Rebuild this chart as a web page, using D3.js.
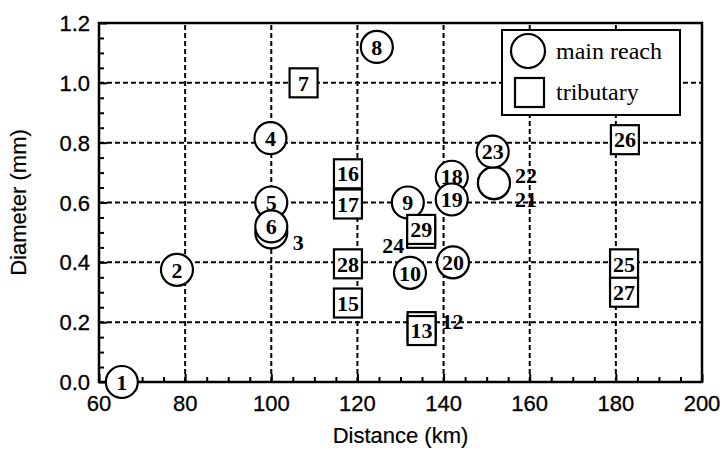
<!DOCTYPE html>
<html>
<head>
<meta charset="utf-8">
<script src="https://cdn.jsdelivr.net/npm/d3@7"></script>
<style>
  body { margin: 0; background: #fff; }
  svg { display: block; }
  .tick-label { font-family: "Liberation Sans", Arial, sans-serif; font-size: 22px; stroke: #000; stroke-width: 0.3px; }
  .axis-title { font-family: "Liberation Sans", Arial, sans-serif; font-size: 22px; stroke: #000; stroke-width: 0.2px; }
  .pt-label { font-family: "Liberation Serif", "Times New Roman", serif; font-size: 22px; font-weight: bold; }
  .legend-text { font-family: "Liberation Serif", "Times New Roman", serif; font-size: 24px; }
</style>
</head>
<body>
<svg id="chart" width="725" height="451"></svg>
<script>
// main reach samples (circles)
const mainIds  = [1, 2, 3, 4, 5, 6, 8, 9, 10, 18, 19, 20, 21, 22, 23];
const mainDist = [65.3, 78.1, 100, 99.8, 100, 100, 124.5, 131.7, 132.2, 141.9, 141.9, 142.2, 151.7, 151.7, 151.4];
const mainDiam = [0.0, 0.375, 0.50, 0.815, 0.60, 0.52, 1.12, 0.60, 0.365, 0.686, 0.61, 0.40, 0.665, 0.665, 0.77];

// tributary samples (squares)
const tribIds  = [7, 12, 13, 15, 16, 17, 24, 25, 26, 27, 28, 29];
const tribDist = [107.5, 134.9, 134.9, 117.8, 117.8, 117.8, 134.8, 181.9, 182.1, 181.9, 117.8, 134.8];
const tribDiam = [1.0, 0.185, 0.172, 0.264, 0.696, 0.595, 0.497, 0.395, 0.81, 0.30, 0.395, 0.51];

// samples hidden behind others, numbered beside the marker
const sideLabelIds = [3, 12, 21, 22, 24];

const xTicks = [60, 80, 100, 120, 140, 160, 180, 200];
const yTicks = [0.0, 0.2, 0.4, 0.6, 0.8, 1.0, 1.2];

const svg = d3.select("#chart");
const x = d3.scaleLinear().domain([60, 200]).range([99, 702]);
const y = d3.scaleLinear().domain([0, 1.2]).range([382, 23]);

// grid
const grid = svg.append("g")
    .attr("stroke", "#000").attr("stroke-width", 2).attr("stroke-dasharray", "5,3");
grid.selectAll(".vg").data(xTicks.slice(1, -1)).enter().append("line")
    .attr("x1", d => x(d)).attr("x2", d => x(d))
    .attr("y1", y(0)).attr("y2", y(1.2));
grid.selectAll(".hg").data(yTicks.slice(1, -1)).enter().append("line")
    .attr("x1", x(60)).attr("x2", x(200))
    .attr("y1", d => y(d)).attr("y2", d => y(d));

// inward ticks
const xAxis = d3.axisTop(x).tickValues(d3.range(60, 201, 5))
    .tickSize(0).tickFormat("");
const gx = svg.append("g").attr("transform", `translate(0,${y(0)})`).call(xAxis);
gx.select(".domain").remove();
gx.selectAll(".tick line").attr("y2", d => d % 20 === 0 ? -8 : -5)
    .attr("stroke-width", 2);

const yAxis = d3.axisRight(y).tickValues(d3.range(0, 1.2001, 0.05))
    .tickSize(0).tickFormat("");
const gy = svg.append("g").attr("transform", `translate(${x(60)},0)`).call(yAxis);
gy.select(".domain").remove();
gy.selectAll(".tick line").attr("x2", d => Math.abs(Math.round(d * 100) % 20) === 0 ? 8 : 5)
    .attr("stroke-width", 2);

// tick labels
svg.selectAll(".xl").data(xTicks).enter().append("text")
    .attr("class", "tick-label")
    .attr("x", d => x(d)).attr("y", y(0) + 29)
    .attr("text-anchor", "middle")
    .text(d => d);
svg.selectAll(".yl").data(yTicks).enter().append("text")
    .attr("class", "tick-label")
    .attr("x", x(60) - 9).attr("y", d => y(d) + 8)
    .attr("text-anchor", "end")
    .text(d => d3.format(".1f")(d));

// axis titles
svg.append("text").attr("class", "axis-title")
    .attr("x", (x(60) + x(200)) / 2).attr("y", 443)
    .attr("text-anchor", "middle").text("Distance (km)");
svg.append("text").attr("class", "axis-title")
    .attr("transform", `translate(26,${(y(0) + y(1.2)) / 2}) rotate(-90)`)
    .attr("text-anchor", "middle").text("Diameter (mm)");

// frame
svg.append("rect")
    .attr("x", x(60)).attr("y", y(1.2))
    .attr("width", x(200) - x(60)).attr("height", y(0) - y(1.2))
    .attr("fill", "none").attr("stroke", "#000").attr("stroke-width", 2.5);

// points
const points = mainIds.map((id, i) => ({ id, dist: mainDist[i], diam: mainDiam[i], shape: "circle" }))
    .concat(tribIds.map((id, i) => ({ id, dist: tribDist[i], diam: tribDiam[i], shape: "square" })));
const hidden = points.filter(p => sideLabelIds.includes(p.id));
const shown = points.filter(p => !sideLabelIds.includes(p.id)).sort((a, b) => a.id - b.id);
const ordered = hidden.concat(shown);

const R = 16, SW = 28, SH = 29;
const pg = svg.selectAll(".pt").data(ordered).enter().append("g")
    .attr("transform", d => `translate(${x(d.dist)},${y(d.diam)})`);
pg.filter(d => d.shape === "circle").append("circle")
    .attr("r", R).attr("fill", "#fff").attr("stroke", "#000").attr("stroke-width", 2.2);
pg.filter(d => d.shape === "square").append("rect")
    .attr("x", -SW / 2).attr("y", -SH / 2).attr("width", SW).attr("height", SH)
    .attr("fill", "#fff").attr("stroke", "#000").attr("stroke-width", 2.2);
pg.filter(d => !sideLabelIds.includes(d.id)).append("text")
    .attr("class", "pt-label")
    .attr("text-anchor", "middle").attr("dy", "0.35em")
    .text(d => d.id);

// side labels for hidden samples
const sideOffset = { 3: [27, 10], 12: [31, -5], 21: [32, 16], 22: [32, -8], 24: [-28, 12] };
svg.selectAll(".side").data(hidden).enter().append("text")
    .attr("class", "pt-label")
    .attr("x", d => x(d.dist) + sideOffset[d.id][0])
    .attr("y", d => y(d.diam) + sideOffset[d.id][1])
    .attr("text-anchor", "middle").attr("dy", "0.35em")
    .text(d => d.id);

// legend
const lg = svg.append("g");
lg.append("rect").attr("x", 502).attr("y", 30).attr("width", 178).attr("height", 85)
    .attr("fill", "#fff").attr("stroke", "#000").attr("stroke-width", 2);
lg.append("circle").attr("cx", 528).attr("cy", 51).attr("r", 17)
    .attr("fill", "#fff").attr("stroke", "#000").attr("stroke-width", 2.2);
lg.append("rect").attr("x", 515).attr("y", 78).attr("width", 29).attr("height", 29)
    .attr("fill", "#fff").attr("stroke", "#000").attr("stroke-width", 2.2);
lg.append("text").attr("class", "legend-text").attr("x", 556).attr("y", 59).text("main reach");
lg.append("text").attr("class", "legend-text").attr("x", 556).attr("y", 100).text("tributary");
</script>
</body>
</html>
